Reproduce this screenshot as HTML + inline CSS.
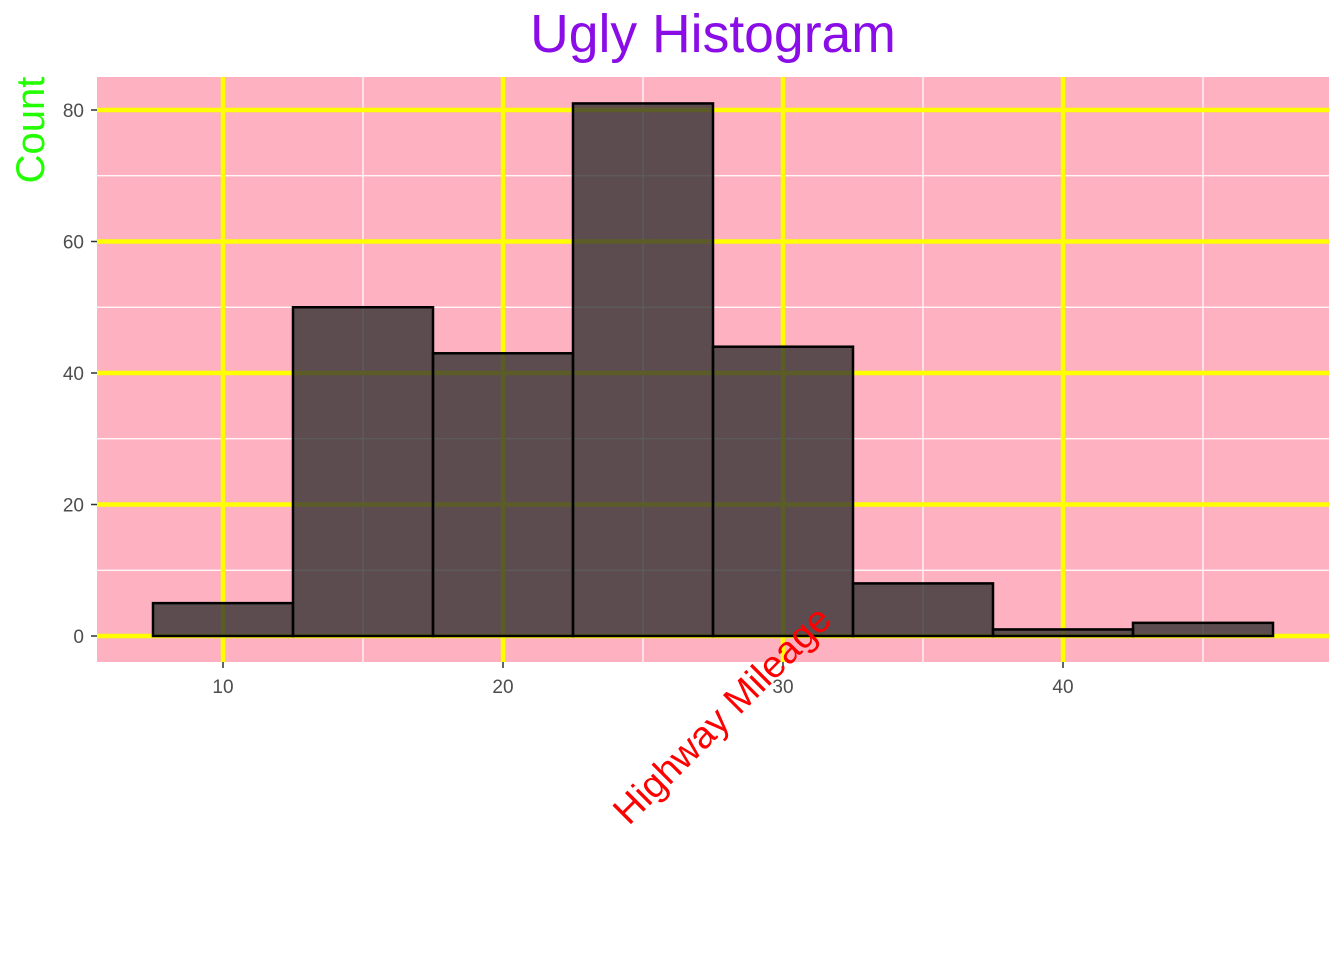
<!DOCTYPE html>
<html><head><meta charset="utf-8"><style>
body{margin:0;background:#fff;}
svg{display:block;font-family:"Liberation Sans",sans-serif;}
</style></head><body>
<svg id="chart" width="1344" height="960">
<text x="713" y="52" text-anchor="middle" font-size="53.5" fill="#8a0ce6">Ugly Histogram</text>
<rect x="97" y="77" width="1232" height="585" fill="#fdb1c1"/>
<g id="grid"></g>
<g id="bars"></g>
<g id="axes"></g>
<text transform="translate(44,130) rotate(-90)" text-anchor="middle" font-size="40" fill="#22ff00">Count</text>
<text transform="translate(724,717) rotate(-45)" text-anchor="middle" dominant-baseline="middle" font-size="38" fill="#ff0000">Highway Mileage</text>
</svg>
<script>
const binStarts=[7.5,12.5,17.5,22.5,27.5,32.5,37.5,42.5];
const binWidth=5;
const counts=[5,50,43,81,44,8,1,2];
const xTicks=[10,20,30,40];
const xMinor=[15,25,35,45];
const yTicks=[0,20,40,60,80];
const yMinor=[10,30,50,70];
const NS="http://www.w3.org/2000/svg";
const X=v=>223+(v-10)*28;
const Y=v=>636-v*6.575;
function mk(tag,attrs,parent){const e=document.createElementNS(NS,tag);for(const k in attrs)e.setAttribute(k,attrs[k]);parent.appendChild(e);return e;}
const grid=document.getElementById('grid'),bars=document.getElementById('bars'),axes=document.getElementById('axes');
yMinor.forEach(v=>{const l=mk('line',{x1:97,x2:1329,y1:Y(v),y2:Y(v),stroke:'#fff','stroke-width':1.2},grid);

});
xMinor.forEach(v=>{const l=mk('line',{x1:X(v),x2:X(v),y1:77,y2:662,stroke:'#fff','stroke-width':1.2},grid);

});
yTicks.forEach(v=>{const l=mk('line',{x1:97,x2:1329,y1:Y(v),y2:Y(v),stroke:'#ffff00','stroke-width':4.5},grid);


const t=mk('text',{x:84,y:Y(v)+7,'text-anchor':'end','font-size':19,fill:'#4d4d4d'},axes);t.textContent=v;


mk('line',{x1:91,x2:97,y1:Y(v),y2:Y(v),stroke:'#333','stroke-width':1.5},axes);});
xTicks.forEach(v=>{const l=mk('line',{x1:X(v),x2:X(v),y1:77,y2:662,stroke:'#ffff00','stroke-width':4.5},grid);


const t=mk('text',{x:X(v),y:693,'text-anchor':'middle','font-size':19,fill:'#4d4d4d'},axes);t.textContent=v;


mk('line',{x1:X(v),x2:X(v),y1:662,y2:668,stroke:'#333','stroke-width':1.5},axes);});
counts.forEach((c,i)=>{const x0=X(binStarts[i]),x1=X(binStarts[i]+binWidth);
const r=mk('rect',{x:x0,y:Y(c),width:x1-x0,height:Y(0)-Y(c),fill:'#333','fill-opacity':0.8,stroke:'#000','stroke-width':2.5},bars);

});
</script>
</body></html>
